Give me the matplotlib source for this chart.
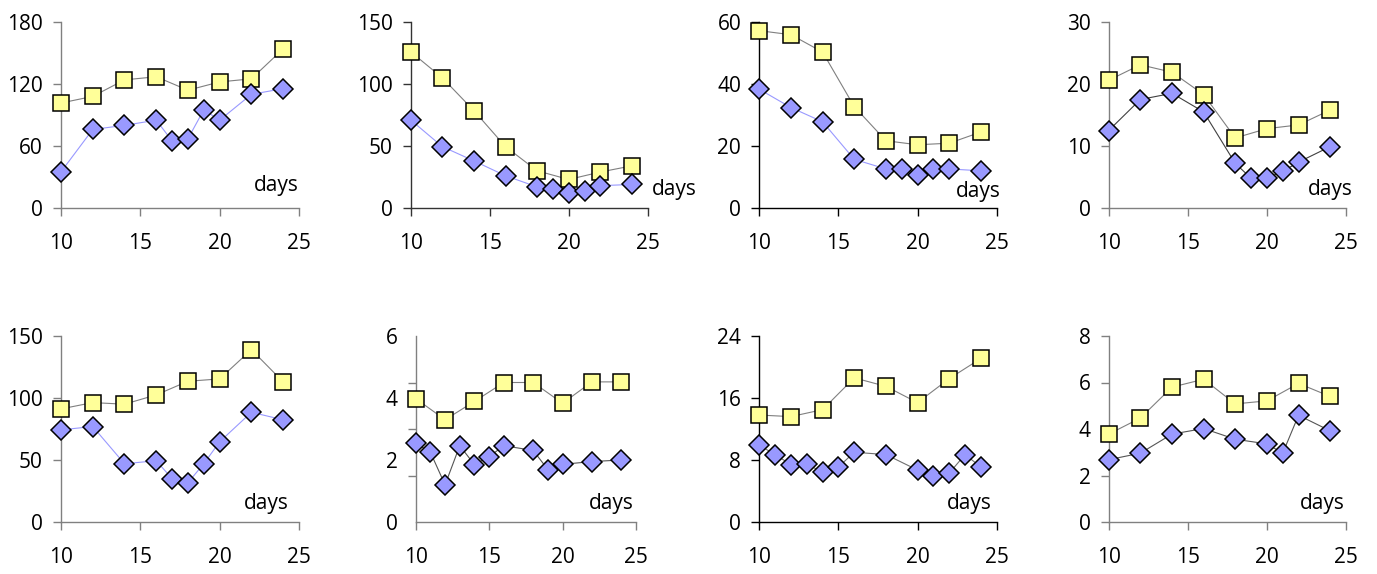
import matplotlib
matplotlib.use("Agg")
import matplotlib.pyplot as plt

plt.rcParams['font.family'] = ['Open Sans', 'DejaVu Sans']

# panel 1
d1_x = [10, 12, 14, 16, 17, 18, 19, 20, 22, 24]
d1_y = [35, 76, 80, 85, 65, 67, 95, 85, 110, 115.5]
s1_x = [10, 12, 14, 16, 18, 20, 22, 24]
s1_y = [101.6, 108, 124, 127, 114, 122, 125, 154]
# panel 2
d2_x = [10, 12, 14, 16, 18, 19, 20, 21, 22, 24]
d2_y = [71, 49.5, 38, 26, 17, 15, 12.4, 14, 18, 19]
s2_x = [10, 12, 14, 16, 18, 20, 22, 24]
s2_y = [126, 105, 78.5, 49.5, 30, 23, 29, 34]
# panel 3
d3_x = [10, 12, 14, 16, 18, 19, 20, 21, 22, 24]
d3_y = [38.3, 32.4, 27.8, 15.7, 12.6, 12.6, 10.8, 12.6, 12.6, 12]
s3_x = [10, 12, 14, 16, 18, 20, 22, 24]
s3_y = [57.2, 55.9, 50.3, 32.7, 21.7, 20.4, 20.9, 24.5]
# panel 4
d4_x = [10, 12, 14, 16, 18, 19, 20, 21, 22, 24]
d4_y = [12.5, 17.5, 18.5, 15.5, 7.2, 4.8, 4.8, 5.9, 7.4, 9.9]
s4_x = [10, 12, 14, 16, 18, 20, 22, 24]
s4_y = [20.6, 23.1, 21.9, 18.3, 11.3, 12.8, 13.4, 15.8]
# panel 5
d5_x = [10, 12, 14, 16, 17, 18, 19, 20, 22, 24]
d5_y = [74.3, 77, 47, 49.4, 35, 31.7, 47, 64.7, 88.5, 82.4]
s5_x = [10, 12, 14, 16, 18, 20, 22, 24]
s5_y = [91.2, 96.3, 95, 102.5, 113.5, 115.4, 139, 113]
# panel 6
d6_x = [10, 11, 12, 13, 14, 15, 16, 18, 19, 20, 22, 24]
d6_y = [2.54, 2.25, 1.2, 2.46, 1.85, 2.11, 2.46, 2.31, 1.69, 1.86, 1.95, 2.0]
s6_x = [10, 12, 14, 16, 18, 20, 22, 24]
s6_y = [3.98, 3.3, 3.89, 4.5, 4.5, 3.83, 4.52, 4.52]
# panel 7
d7_x = [10, 11, 12, 13, 14, 15, 16, 18, 20, 21, 22, 23, 24]
d7_y = [9.9, 8.7, 7.4, 7.5, 6.4, 7.1, 9.0, 8.7, 6.7, 6.0, 6.3, 8.7, 7.1]
s7_x = [10, 12, 14, 16, 18, 20, 22, 24]
s7_y = [13.8, 13.6, 14.5, 18.6, 17.5, 15.4, 18.5, 21.1]
# panel 8
d8_x = [10, 12, 14, 16, 18, 20, 21, 22, 24]
d8_y = [2.68, 2.96, 3.78, 4.02, 3.56, 3.36, 2.96, 4.59, 3.92]
s8_x = [10, 12, 14, 16, 18, 20, 22, 24]
s8_y = [3.78, 4.47, 5.8, 6.14, 5.08, 5.21, 5.96, 5.4]

diamonds = [(d1_x, d1_y), (d2_x, d2_y), (d3_x, d3_y), (d4_x, d4_y),
            (d5_x, d5_y), (d6_x, d6_y), (d7_x, d7_y), (d8_x, d8_y)]
squares = [(s1_x, s1_y), (s2_x, s2_y), (s3_x, s3_y), (s4_x, s4_y),
           (s5_x, s5_y), (s6_x, s6_y), (s7_x, s7_y), (s8_x, s8_y)]
yticks = [[0, 60, 120, 180], [0, 50, 100, 150], [0, 20, 40, 60], [0, 10, 20, 30],
          [0, 50, 100, 150], [0, 2, 4, 6], [0, 8, 16, 24], [0, 2, 4, 6, 8]]
xticks = [10, 15, 20, 25]

W, H = 1377, 574
# axes boxes in pixels: left, right, top, bottom
boxes = [(61, 299, 22, 208), (410.7, 647.7, 22, 208), (759.3, 996.7, 22, 208), (1108.7, 1346, 22, 208),
         (61, 299, 336, 522), (415.7, 636, 336, 522), (759.3, 996.7, 336, 522), (1108.7, 1346, 336, 522)]
days_pos = [(276, 186), (674, 190), (978, 192), (1330, 189),
            (266, 503), (611, 503), (969, 503), (1322, 503)]
dline = ['#9999ff', '#9999ff', '#9999ff', '#404040', '#9999ff', '#555555', '#707070', '#555555']
spine_c = ['#808080', '#333333', '#000000', '#808080', '#808080', '#808080', '#000000', '#808080']

fig = plt.figure(figsize=(W / 100, H / 100), dpi=100)
for i in range(8):
    l, r, t, b = boxes[i]
    ax = fig.add_axes([l / W, 1 - b / H, (r - l) / W, (b - t) / H])
    sx, sy = squares[i]
    dx, dy = diamonds[i]
    ax.plot(sx, sy, color='#808080', lw=0.8, marker='s', ms=11,
            mfc='#ffff99', mec='black', mew=1.1, clip_on=False, zorder=3)
    ax.plot(dx, dy, color=dline[i], lw=0.8, marker='D', ms=9.8,
            mfc='#9999ff', mec='black', mew=1.1, clip_on=False, zorder=4)
    ax.set_xlim(10, 25)
    ax.set_ylim(0, yticks[i][-1])
    ax.set_xticks(xticks)
    ax.set_yticks(yticks[i])
    for s in ['top', 'right']:
        ax.spines[s].set_visible(False)
    for s in ['left', 'bottom']:
        ax.spines[s].set_color(spine_c[i])
        ax.spines[s].set_linewidth(1.0)
    ax.tick_params(axis='both', direction='out', length=6, width=1.0,
                   colors=spine_c[i], labelcolor='black', labelsize=15)
    ax.tick_params(axis='x', pad=12)
    ax.tick_params(axis='y', pad=7)
    if i == 5:
        ax.tick_params(axis='y', which='major', length=0, pad=13)
        ax.set_yticks([0, 1.5, 3, 4.5, 6], minor=True)
        ax.tick_params(axis='y', which='minor', direction='out', length=6,
                       width=1.0, colors=spine_c[i])
    fig.text(days_pos[i][0] / W, 1 - days_pos[i][1] / H, 'days',
             ha='center', va='center', fontsize=15)

fig.savefig('out.png', dpi=100)
